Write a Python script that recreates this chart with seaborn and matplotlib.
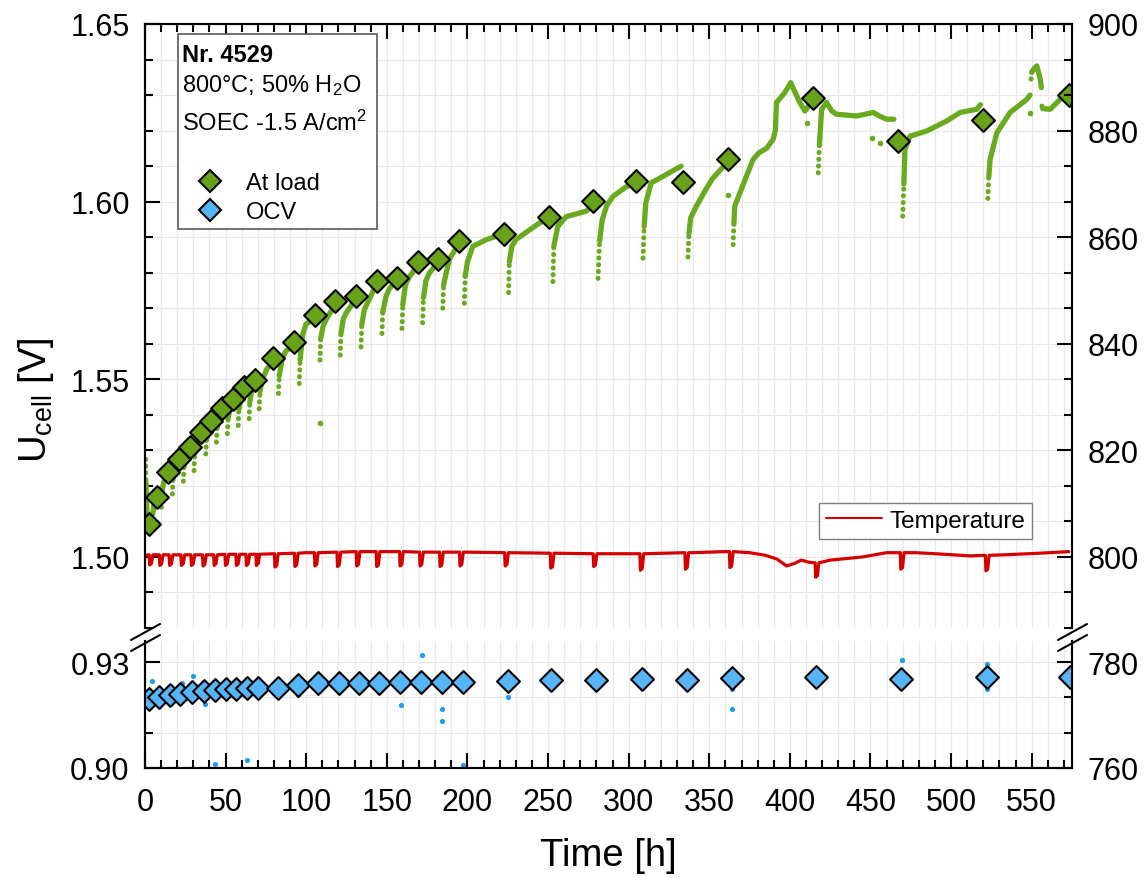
import numpy as np
import pandas as pd
import matplotlib
matplotlib.use("Agg")
import matplotlib.pyplot as plt
from matplotlib.lines import Line2D
from matplotlib.patches import Rectangle
from matplotlib.ticker import FixedLocator, MultipleLocator, FormatStrFormatter
import seaborn as sns

sns.set_theme(style="white")
plt.rcParams['font.family'] = ['Liberation Sans', 'DejaVu Sans']
plt.rcParams['mathtext.fontset'] = 'custom'
plt.rcParams['mathtext.rm'] = 'Liberation Sans'
plt.rcParams['mathtext.it'] = 'Liberation Sans:italic'
plt.rcParams['mathtext.bf'] = 'Liberation Sans:bold'
plt.rcParams['text.color'] = 'black'
plt.rcParams['axes.labelcolor'] = 'black'
plt.rcParams['xtick.color'] = 'black'
plt.rcParams['ytick.color'] = 'black'

nan = np.nan

# ---------------- data ----------------
# Cell voltage at load, sampled right before each interruption
load_t = [2.5, 7.3, 14.3, 21.1, 27.8, 34.6, 41.2, 48.0, 54.8, 61.7, 68.1, 79.7, 92.5,
          105.4, 118.0, 130.9, 143.9, 156.3, 169.6, 182.0, 195.0, 222.5, 250.5, 278.0,
          304.8, 333.7, 361.7, 414.1, 467.3, 519.7, 572.9]
load_v = [1.5093, 1.5170, 1.5238, 1.5275, 1.5309, 1.5353, 1.5382, 1.5420, 1.5444, 1.5478,
          1.5499, 1.5561, 1.5604, 1.5681, 1.5720, 1.5734, 1.5778, 1.5786, 1.5830, 1.5838,
          1.5890, 1.5909, 1.5956, 1.6001, 1.6059, 1.6055, 1.6121, 1.6293, 1.6170, 1.6230,
          1.6300]

# Open circuit voltage during each interruption
ocv_t = [2.5, 8.7, 15.3, 22.0, 29.4, 36.6, 43.5, 50.0, 56.7, 63.0, 70.2, 82.2, 95.2,
         107.6, 120.5, 133.0, 145.3, 158.4, 171.2, 184.0, 197.0, 225.0, 252.0, 280.0,
         308.0, 336.0, 364.0, 416.5, 469.0, 522.0, 574.0]
ocv_v = [0.9197, 0.9202, 0.9207, 0.9211, 0.9216, 0.9219, 0.9221, 0.9224, 0.9224, 0.9226,
         0.9226, 0.9228, 0.9235, 0.9240, 0.9240, 0.9242, 0.9242, 0.9245, 0.9245, 0.9245,
         0.9245, 0.9247, 0.9249, 0.9249, 0.9252, 0.9250, 0.9254, 0.9258, 0.9252, 0.9259,
         0.9257]

# Scattered raw OCV readings
ocv_raw_t = [4.2, 22.8, 30.0, 37.0, 43.5, 63.5, 82.2, 95.2, 158.8, 171.9, 184.3, 184.3,
             197.0, 225.0, 363.8, 363.8, 469.4, 522.2, 522.2]
ocv_raw_v = [0.9247, 0.9242, 0.9261, 0.9181, 0.9012, 0.9022, 0.9205, 0.9207, 0.9179,
             0.9320, 0.9167, 0.9134, 0.9008, 0.9200, 0.9224, 0.9167, 0.9306, 0.9294,
             0.9225]

# Raw cell voltage at load, one recovery period per block (nan separates blocks)
raw_t = [0.4, 0.6, 1.0, 1.5, nan,
         4.5, 4.8, 5.5, 6.8, nan,
         10.2, 10.6, 11.6, 13.8, nan,
         17.0, 17.4, 18.5, 20.6, nan,
         23.8, 24.2, 25.3, 27.3, nan,
         30.4, 30.8, 31.9, 34.1, nan,
         37.7, 38.1, 39.2, 40.7, nan,
         44.3, 44.7, 45.8, 47.5, nan,
         51.1, 51.5, 52.6, 54.3, nan,
         57.8, 58.2, 59.3, 61.2, nan,
         64.6, 65.0, 66.1, 67.6, nan,
         70.8, 71.3, 72.8, 75.5, 79.2, nan,
         82.8, 83.3, 85.0, 87.4, 92.0, nan,
         95.7, 96.2, 97.8, 99.8, 104.8, nan,
         108.5, 109.0, 110.5, 112.2, 117.5, nan,
         121.1, 121.6, 123.0, 124.7, 130.4, nan,
         134.0, 134.5, 136.0, 138.0, 143.4, nan,
         147.0, 147.5, 149.5, 151.5, 155.8, nan,
         159.4, 159.9, 161.5, 163.5, 169.0, nan,
         172.2, 172.7, 174.3, 176.5, 181.5, nan,
         184.7, 185.2, 186.8, 189.0, 194.5, nan,
         198.1, 198.6, 200.0, 203.3, 211.6, 221.5, nan,
         225.5, 226.0, 227.5, 230.0, 244.7, 249.5, nan,
         253.0, 253.6, 256.0, 261.3, 273.7, 277.0, nan,
         281.0, 282.0, 283.6, 286.5, 290.3, 298.6, 304.0, nan,
         308.9, 309.6, 310.6, 314.0, 321.3, 332.5, nan,
         336.8, 337.4, 338.5, 342.0, 348.6, 352.0, 360.7, nan,
         364.8, 365.3, 365.8, 371.0, 377.2, 381.0, 385.5, 389.6, 391.0, 391.7, 396.9,
         400.5, 404.0, 406.2, 409.3, 411.0, 413.0, nan,
         417.6, 418.3, 419.7, 422.8, 426.0, 429.0, 441.4, 451.7, 456.0, 460.0, 464.5, nan,
         470.0, 470.7, 471.4, 474.5, 484.9, 497.3, 505.6, 516.0, 518.2, nan,
         522.8, 523.4, 524.2, 528.4, 536.6, 547.0, 549.0, nan,
         549.6, 550.0, 551.5, 553.2, 555.3, 556.0, nan,
         556.3, 556.8, 561.5, 567.7, 571.9, 575.0]
raw_v = [1.5275, 1.5210, 1.5150, 1.5110, nan,
         1.5085, 1.5120, 1.5145, 1.5158, nan,
         1.5140, 1.5185, 1.5210, 1.5227, nan,
         1.5177, 1.5220, 1.5245, 1.5263, nan,
         1.5213, 1.5255, 1.5280, 1.5298, nan,
         1.5243, 1.5290, 1.5318, 1.5341, nan,
         1.5290, 1.5330, 1.5355, 1.5371, nan,
         1.5323, 1.5365, 1.5390, 1.5408, nan,
         1.5347, 1.5390, 1.5415, 1.5433, nan,
         1.5370, 1.5415, 1.5445, 1.5466, nan,
         1.5389, 1.5435, 1.5465, 1.5488, nan,
         1.5417, 1.5465, 1.5500, 1.5528, 1.5549, nan,
         1.5460, 1.5510, 1.5555, 1.5580, 1.5594, nan,
         1.5488, 1.5555, 1.5625, 1.5655, 1.5670, nan,
         1.5554, 1.5615, 1.5650, 1.5667, 1.5708, nan,
         1.5568, 1.5630, 1.5670, 1.5686, 1.5724, nan,
         1.5591, 1.5655, 1.5695, 1.5715, 1.5766, nan,
         1.5629, 1.5690, 1.5733, 1.5755, 1.5776, nan,
         1.5643, 1.5710, 1.5765, 1.5785, 1.5820, nan,
         1.5659, 1.5730, 1.5778, 1.5800, 1.5828, nan,
         1.5700, 1.5765, 1.5799, 1.5840, 1.5880, nan,
         1.5714, 1.5790, 1.5830, 1.5874, 1.5893, 1.5908, nan,
         1.5744, 1.5830, 1.5874, 1.5893, 1.5940, 1.5950, nan,
         1.5775, 1.5875, 1.5930, 1.5958, 1.5973, 1.5987, nan,
         1.5784, 1.5890, 1.5949, 1.5990, 1.6015, 1.6042, 1.6053, nan,
         1.5841, 1.5930, 1.5996, 1.6053, 1.6071, 1.6100, nan,
         1.5844, 1.5910, 1.5955, 1.5987, 1.6040, 1.6065, 1.6108, nan,
         1.5879, 1.5940, 1.5987, 1.6048, 1.6119, 1.6138, 1.6150, 1.6175, 1.6200, 1.6279,
         1.6307, 1.6335, 1.6300, 1.6279, 1.6255, 1.6265, 1.6285, nan,
         1.6081, 1.6160, 1.6260, 1.6279, 1.6255, 1.6246, 1.6241, 1.6251, 1.6240, 1.6232,
         1.6232, nan,
         1.5959, 1.6050, 1.6147, 1.6184, 1.6199, 1.6227, 1.6251, 1.6260, 1.6273, nan,
         1.6009, 1.6070, 1.6119, 1.6194, 1.6251, 1.6288, 1.6300, nan,
         1.6345, 1.6364, 1.6375, 1.6382, 1.6345, 1.6321, nan,
         1.6269, 1.6262, 1.6260, 1.6288, 1.6307, 1.6310]

# Isolated raw readings at load
stray_t = [108.3, 361.7, 410.4, 450.7, 455.9, 549.0]
stray_v = [1.5378, 1.6020, 1.6222, 1.6180, 1.6166, 1.6250]

# Furnace temperature: slow trend plus short dips at each interruption
temp_knot_t = [0, 20, 70, 100, 150, 200, 250, 300, 340, 360, 375, 385, 392, 398, 403,
               407, 412, 425, 445, 460, 478, 490, 512, 533, 555, 573]
temp_knot_v = [800.3, 800.4, 800.5, 800.8, 801.0, 800.9, 800.7, 800.6, 800.8, 801.0,
               800.8, 800.3, 799.6, 798.3, 798.8, 799.4, 799.0, 799.4, 800.0, 800.8,
               800.8, 800.6, 800.2, 800.4, 800.7, 801.0]
dip_t = [3.5, 9.8, 15.9, 23.2, 29.4, 36.6, 43.5, 50.5, 57.3, 63.5, 69.7, 81.2, 93.6,
         106.0, 120.0, 131.9, 144.3, 158.8, 171.2, 183.6, 196.0, 224.0, 252.3, 278.9,
         307.9, 335.8, 363.4, 416.6, 469.4, 522.2]
dip_low = [798.5, 798.4, 798.4, 798.4, 798.4, 798.3, 798.4, 798.4, 798.4, 798.4, 798.4,
           798.1, 798.2, 798.3, 798.2, 798.3, 798.2, 798.3, 798.3, 798.2, 798.3, 798.3,
           797.9, 798.2, 797.5, 797.7, 798.0, 796.2, 797.7, 797.4]
dip_base = [800.4, 800.4, 800.4, 800.4, 800.4, 800.4, 800.4, 800.5, 800.5, 800.5, 800.5,
            800.6, 800.7, 800.8, 800.9, 801.0, 801.0, 801.0, 800.9, 800.9, 800.9, 800.8,
            800.7, 800.6, 800.6, 800.8, 801.0, 798.9, 800.8, 800.3]

# ---------------- figure ----------------
W, H = 1145, 879
fig = plt.figure(figsize=(W / 100, H / 100), dpi=100)


def fx(px):
    return px / W


def fy(py):
    return 1 - py / H


ax_top = fig.add_axes([fx(145), fy(629), (1072 - 145) / W, (629 - 25) / H])
ax_bot = fig.add_axes([fx(145), fy(769), (1072 - 145) / W, (769 - 642) / H])
ax_top_r = ax_top.twinx()
ax_bot_r = ax_bot.twinx()

green = '#6aaa1e'
green_d = '#67a21a'
blue_d = '#55b5f6'
blue_s = '#1e9cf2'
red = '#d40000'
tick_fs = 22

# raw load data as separate recovery blocks
seg_id = np.cumsum(np.isnan(raw_t))
raw = pd.DataFrame({'t': raw_t, 'v': raw_v, 'seg': seg_id}).dropna()
for _, blk in raw.groupby('seg'):
    # fast initial part, sparsely sampled
    ax_top.plot(blk['t'].iloc[:2], blk['v'].iloc[:2], color=green, lw=3.6,
                ls=(0, (0.05, 1.3)), dash_capstyle='round', zorder=2)
    sns.lineplot(x=blk['t'].iloc[1:].to_numpy(), y=blk['v'].iloc[1:].to_numpy(),
                 ax=ax_top, color=green, lw=3.8, sort=False, estimator=None, zorder=2)
sns.scatterplot(x=stray_t, y=stray_v, ax=ax_top, color=green, s=16, linewidth=0, zorder=2)

sns.scatterplot(x=load_t, y=load_v, ax=ax_top, marker='D', s=135, color=green_d,
                edgecolor='black', linewidth=1.5, zorder=5)

sns.scatterplot(x=ocv_raw_t, y=ocv_raw_v, ax=ax_bot, color=blue_s, s=14, linewidth=0, zorder=2)
sns.scatterplot(x=ocv_t, y=ocv_v, ax=ax_bot, marker='D', s=135, color=blue_d,
                edgecolor='black', linewidth=1.5, zorder=5)

# temperature series
pts = list(zip(temp_knot_t, temp_knot_v))
for td, lo, b in zip(dip_t, dip_low, dip_base):
    pts += [(td - 0.9, b), (td - 0.6, lo), (td + 0.5, lo + 0.3), (td + 1.4, b)]
pts.sort()
temp = pd.DataFrame(pts, columns=['t', 'T'])
sns.lineplot(data=temp, x='t', y='T', ax=ax_top_r, color=red, lw=2.3, sort=False,
             estimator=None)

# ---------------- axes styling ----------------
for ax in (ax_top, ax_bot, ax_top_r, ax_bot_r):
    ax.set_xlim(0, 575)
    ax.set_xlabel('')
    ax.set_ylabel('')
    for s in ax.spines.values():
        s.set_linewidth(1.5)
        s.set_color('black')
    ax.tick_params(which='both', direction='in', width=1.5, labelsize=tick_fs, pad=11,
                   colors='black')
    ax.tick_params(which='major', length=10.5)
    ax.tick_params(which='minor', length=5.5)
    ax.xaxis.set_major_locator(MultipleLocator(50))
    ax.xaxis.set_minor_locator(MultipleLocator(10))

ax_bot.tick_params(axis='x', pad=14)

ax_top.set_ylim(1.48, 1.65)
ax_bot.set_ylim(0.90, 0.936)
ax_top_r.set_ylim(800 + (1.48 - 1.50) / 0.0015, 900)
ax_bot_r.set_ylim(760, 760 + 0.036 / 0.0015)

ax_top.yaxis.set_major_locator(FixedLocator([1.50, 1.55, 1.60, 1.65]))
ax_top.yaxis.set_minor_locator(FixedLocator([1.48 + 0.01 * i for i in range(18)]))
ax_bot.yaxis.set_major_locator(FixedLocator([0.90, 0.93]))
ax_bot.yaxis.set_minor_locator(FixedLocator([0.91, 0.92]))
ax_top.yaxis.set_major_formatter(FormatStrFormatter('%.2f'))
ax_bot.yaxis.set_major_formatter(FormatStrFormatter('%.2f'))

ax_top_r.yaxis.set_major_locator(FixedLocator([800, 820, 840, 860, 880, 900]))
ax_top_r.yaxis.set_minor_locator(MultipleLocator(20 / 3))
ax_bot_r.yaxis.set_major_locator(FixedLocator([760, 780]))
ax_bot_r.yaxis.set_minor_locator(MultipleLocator(20 / 3))

for ax in (ax_top, ax_bot):
    ax.grid(which='both', color='#e8e8e8', lw=0.9)
    ax.set_axisbelow(True)
    ax.tick_params(axis='y', which='both', left=True, right=False)

ax_top.spines['bottom'].set_visible(False)
ax_top_r.spines['bottom'].set_visible(False)
ax_bot.spines['top'].set_visible(False)
ax_bot_r.spines['top'].set_visible(False)

ax_top.tick_params(axis='x', which='both', top=True, bottom=False, labelbottom=False,
                   labeltop=False)
ax_top_r.tick_params(axis='x', which='both', top=False, bottom=False, labelbottom=False)
ax_bot.tick_params(axis='x', which='both', top=False, bottom=True, labelbottom=True)
ax_bot_r.tick_params(axis='x', which='both', top=False, bottom=False, labelbottom=False)
for ax in (ax_top_r, ax_bot_r):
    ax.tick_params(axis='y', which='both', right=True, left=False, labelright=True,
                   labelleft=False)
    ax.grid(False)

# axis break marks
for x0 in (131, 1058):
    for dy in (0, 11):
        fig.add_artist(Line2D([fx(x0), fx(x0 + 29)], [fy(641 + dy), fy(625 + dy)],
                              transform=fig.transFigure, color='black', lw=1.5))

# axis titles
fig.text(fx(36), fy(400), r'U$_{\mathrm{cell}}$ [V]', rotation=90, fontsize=27.5,
         ha='center', va='center')
fig.text(fx(608), fy(856), 'Time [h]', fontsize=27.5, ha='center', va='center')

# info box
fig.add_artist(Rectangle((fx(178), fy(230)), (377 - 178) / W, (230 - 35) / H,
                         transform=fig.transFigure, facecolor='white',
                         edgecolor='#5a5a5a', lw=1.2, zorder=3))
fig.text(fx(182), fy(62), 'Nr. 4529', fontsize=17, fontweight='bold', va='baseline',
         zorder=4)
fig.text(fx(182), fy(92), r'800°C; 50% H$_2$O', fontsize=17, va='baseline', zorder=4)
fig.text(fx(182), fy(131), r'SOEC -1.5 A/cm$^2$', fontsize=17, va='baseline', zorder=4)

handles = [Line2D([], [], marker='D', ls='', ms=11.5, mfc=green_d, mec='black', mew=1.5),
           Line2D([], [], marker='D', ls='', ms=11.5, mfc=blue_d, mec='black', mew=1.5)]
leg = fig.legend(handles, ['At load', 'OCV'], loc='upper left',
                 bbox_to_anchor=(fx(196), fy(173)), bbox_transform=fig.transFigure,
                 frameon=False, fontsize=17, handlelength=1.2, handletextpad=0.9,
                 borderpad=0, borderaxespad=0, labelspacing=0.3)
leg.set_zorder(5)

tleg = ax_top_r.legend([Line2D([], [], color=red, lw=1.5)], ['Temperature'],
                       loc='upper left', bbox_to_anchor=(fx(819), fy(504)),
                       bbox_transform=fig.transFigure, fontsize=17.5, frameon=True,
                       fancybox=False, edgecolor='#7f7f7f', framealpha=1,
                       borderpad=0.28, handlelength=2.3, handletextpad=0.3,
                       borderaxespad=0)
tleg.get_frame().set_linewidth(1.0)

fig.savefig('out.png', dpi=100)
